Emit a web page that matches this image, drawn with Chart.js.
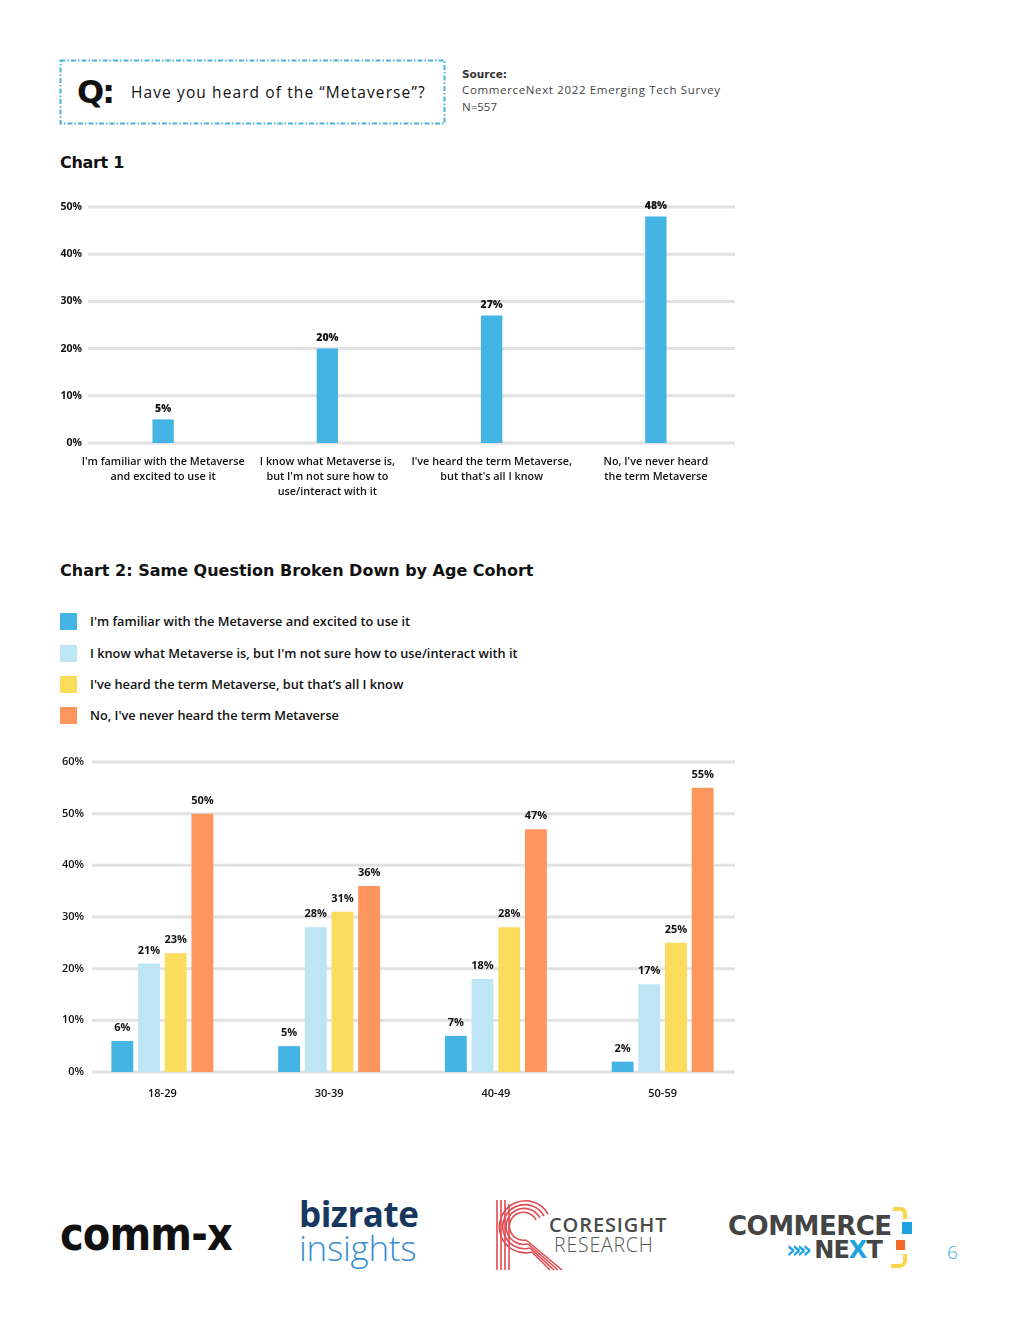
<!DOCTYPE html>
<html>
<head>
<meta charset="utf-8">
<script src="https://cdn.jsdelivr.net/npm/chart.js@4.4.0/dist/chart.umd.min.js"></script>
<style>
  body { margin:0; width:1020px; height:1320px; background:#fff; position:relative; overflow:hidden; font-family:'Open Sans', sans-serif; color:#111; }
  .abs { position:absolute; white-space:nowrap; }
  .head { font-family:'DejaVu Sans', sans-serif; font-weight:bold; color:#111; }
  .legend-row { position:absolute; left:60px; height:18px; }
  .legend-row .sw { position:absolute; left:0; top:0; width:17px; height:17px; }
  .legend-row .tx { position:absolute; left:30px; top:0; line-height:17px; font-size:12.75px; font-weight:600; color:#111; white-space:nowrap; }
</style>
</head>
<body>

<!-- question box -->
<svg class="abs" style="left:59px;top:59px" width="388" height="67">
  <rect x="1.5" y="1.5" width="384" height="63" fill="none" stroke="#4ab2d6" stroke-width="2" stroke-dasharray="5 2 1.5 2"/>
</svg>
<div class="abs head" style="left:77px;top:72px;font-size:32px;line-height:40px;font-weight:900;letter-spacing:-2px">Q:</div>
<div class="abs" style="left:131px;top:81px;font-size:15.5px;line-height:22px;letter-spacing:1.1px;color:#111">Have you heard of the “Metaverse”?</div>

<div class="abs" style="left:462px;top:66px;font-size:10.5px;line-height:16px;font-weight:800;color:#333;font-family:'DejaVu Sans',sans-serif">Source:</div>
<div class="abs" style="left:462px;top:82px;font-size:11.5px;line-height:16px;letter-spacing:0.65px;color:#444">CommerceNext 2022 Emerging Tech Survey</div>
<div class="abs" style="left:462px;top:99px;font-size:11.5px;line-height:16px;color:#444">N=557</div>

<div class="abs head" style="left:60px;top:153px;font-size:16px;line-height:20px;letter-spacing:-0.3px">Chart 1</div>

<div class="abs" style="left:40px;top:190px;width:710px;height:320px">
  <canvas id="chart1" width="710" height="320"></canvas>
</div>

<div class="abs head" style="left:60px;top:561px;font-size:16px;line-height:20px">Chart 2: Same Question Broken Down by Age Cohort</div>

<div id="legend2"></div>

<div class="abs" style="left:40px;top:745px;width:710px;height:370px">
  <canvas id="chart2" width="710" height="370"></canvas>
</div>

<!-- partner logos -->
<div class="abs" style="left:60px;top:1206px;font-family:'DejaVu Sans',sans-serif;font-weight:bold;font-size:46px;line-height:56px;color:#111;transform:scaleX(0.87);transform-origin:left center;letter-spacing:-1px">comm-x</div>

<div class="abs" style="left:299px;top:1192px;font-size:35px;line-height:44px;font-weight:700;color:#17375e;letter-spacing:-0.5px">bizrate</div>
<div class="abs" style="left:299px;top:1226px;font-size:35px;line-height:44px;font-weight:300;color:#3b8fd2;letter-spacing:-0.3px">insights</div>

<svg class="abs" style="left:490px;top:1194px" width="80" height="80">
  <g fill="none" stroke="#e04a50" stroke-width="1.6">
    <line x1="7" y1="6" x2="7" y2="76"/>
    <line x1="11" y1="6" x2="11" y2="76"/>
    <line x1="15" y1="6" x2="15" y2="76"/>
    <line x1="19" y1="10" x2="19" y2="76"/>
    <path d="M58 20 A26 26 0 1 0 42 58"/>
    <path d="M54 22 A22 22 0 1 0 40 54"/>
    <path d="M50 24 A18 18 0 1 0 38 50"/>
    <path d="M46 26 A14 14 0 1 0 36 46"/>
    <line x1="42" y1="58" x2="60" y2="76"/>
    <line x1="40" y1="54" x2="64" y2="76"/>
    <line x1="38" y1="50" x2="68" y2="76"/>
    <line x1="36" y1="46" x2="72" y2="76"/>
  </g>
</svg>
<div class="abs" style="left:549px;top:1213px;font-size:20px;line-height:24px;font-weight:600;color:#4a4a4a;letter-spacing:0.9px">CORESIGHT</div>
<div class="abs" style="left:554px;top:1233px;font-size:19.5px;line-height:24px;font-weight:300;color:#555;letter-spacing:0.8px">RESEARCH</div>

<div class="abs" style="left:728px;top:1210px;font-family:'DejaVu Sans',sans-serif;font-weight:bold;font-size:26px;line-height:32px;color:#444;letter-spacing:-0.5px">COMMERCE</div>
<div class="abs" style="left:786px;top:1236px;font-family:'DejaVu Sans',sans-serif;font-weight:bold;font-size:24px;line-height:28px;color:#444;letter-spacing:-1px"><span style="color:#1fa3e0;letter-spacing:-5px">»»</span> NE<span style="color:#1fa3e0">X</span>T</div>
<div class="abs" style="left:893px;top:1207px;width:10px;height:8px;border-top:4px solid #fcd64a;border-right:4px solid #fcd64a;border-radius:0 6px 0 0"></div>
<div class="abs" style="left:902px;top:1222px;width:10px;height:12px;background:#1fa3e0"></div>
<div class="abs" style="left:896px;top:1240px;width:9px;height:10px;background:#f26b2a"></div>
<div class="abs" style="left:891px;top:1254px;width:12px;height:10px;border-bottom:4px solid #fcd64a;border-right:4px solid #fcd64a;border-radius:0 0 8px 0"></div>

<div class="abs" style="left:947px;top:1240px;font-size:19px;line-height:24px;font-weight:300;color:#3fb1e0">6</div>

<script>
// ---- Chart 1 data ----
const chart1Labels = [
  ["I'm familiar with the Metaverse", "and excited to use it"],
  ["I know what Metaverse is,", "but I'm not sure how to", "use/interact with it"],
  ["I've heard the term Metaverse,", "but that's all I know"],
  ["No, I've never heard", "the term Metaverse"]
];
const chart1Values = [5, 20, 27, 48];
const chart1Max = 50;

// ---- Chart 2 data ----
const ageGroups = ['18-29', '30-39', '40-49', '50-59'];
const seriesNames = [
  "I'm familiar with the Metaverse and excited to use it",
  "I know what Metaverse is, but I'm not sure how to use/interact with it",
  "I've heard the term Metaverse, but that’s all I know",
  "No, I've never heard the term Metaverse"
];
const familiarExcited = [6, 5, 7, 2];
const knowNotSure = [21, 28, 18, 17];
const heardOnly = [23, 31, 28, 25];
const neverHeard = [50, 36, 47, 55];
const chart2Max = 60;

const seriesColors = ['#43b4e4', '#bde5f4', '#fcdc5c', '#fe955c'];

// grid lines drawn a bit inside the chart area, like the source
const insetGrid = {
  id: 'insetGrid',
  beforeDatasetsDraw(chart, args, opts) {
    const {ctx, chartArea, scales: {y}} = chart;
    ctx.save();
    ctx.strokeStyle = '#e2e2e2';
    ctx.lineWidth = 3;
    y.ticks.forEach(t => {
      const py = y.getPixelForValue(t.value);
      ctx.beginPath();
      ctx.moveTo(chartArea.left + opts.left, py);
      ctx.lineTo(chartArea.right - opts.right, py);
      ctx.stroke();
    });
    ctx.restore();
  }
};

// y tick text, right aligned at a set x (the axis box itself would clip it)
const yTickLabels = {
  id: 'yTickLabels',
  afterDraw(chart, args, opts) {
    const {ctx, scales: {y}} = chart;
    ctx.save();
    ctx.font = opts.font;
    ctx.fillStyle = '#111';
    ctx.textAlign = 'right';
    ctx.textBaseline = 'middle';
    y.ticks.forEach(t => {
      ctx.fillText(t.value + '%', opts.x, y.getPixelForValue(t.value));
    });
    ctx.restore();
  }
};

// percentage text above every bar
const valueLabels = {
  id: 'valueLabels',
  afterDatasetsDraw(chart, args, opts) {
    const ctx = chart.ctx;
    ctx.save();
    ctx.font = opts.font;
    ctx.fillStyle = '#111';
    ctx.textAlign = 'center';
    ctx.textBaseline = 'middle';
    chart.data.datasets.forEach((ds, i) => {
      chart.getDatasetMeta(i).data.forEach((bar, j) => {
        ctx.fillText(ds.data[j] + '%', bar.x, bar.y - opts.offset);
      });
    });
    ctx.restore();
  }
};

function makeScales(max, yWidth, xHeight, xPad, xFont) {
  return {
    x: {
      grid: { display: false, drawTicks: false },
      border: { display: false },
      ticks: { color: '#111', font: xFont, padding: xPad, maxRotation: 0, autoSkip: false },
      afterFit: s => { s.height = xHeight; }
    },
    y: {
      min: 0,
      max: max,
      grid: { display: false, drawTicks: false },
      border: { display: false },
      ticks: { stepSize: 10, display: false },
      afterFit: s => { s.width = yWidth; }
    }
  };
}

Chart.defaults.font.family = "'Open Sans', sans-serif";

new Chart(document.getElementById('chart1'), {
  type: 'bar',
  data: {
    labels: chart1Labels,
    datasets: [{
      data: chart1Values,
      backgroundColor: seriesColors[0],
      categoryPercentage: 1,
      barPercentage: 0.13
    }]
  },
  options: {
    responsive: false,
    animation: false,
    layout: { padding: { top: 17, right: 12, left: 0, bottom: 0 } },
    scales: makeScales(chart1Max, 41, 67, 12, { size: 10.8, weight: '600', lineHeight: 1.35 }),
    plugins: {
      legend: { display: false },
      tooltip: { enabled: false },
      insetGrid: { left: 7, right: 3 },
      yTickLabels: { font: "700 10.5px 'Open Sans'", x: 42 },
      valueLabels: { font: "800 10.5px 'Open Sans'", offset: 10.5 }
    }
  },
  plugins: [insetGrid, yTickLabels, valueLabels]
});

const series2 = [familiarExcited, knowNotSure, heardOnly, neverHeard];

new Chart(document.getElementById('chart2'), {
  type: 'bar',
  data: {
    labels: ageGroups,
    datasets: series2.map((vals, i) => ({
      label: seriesNames[i],
      data: vals,
      backgroundColor: seriesColors[i],
      categoryPercentage: 0.64,
      barPercentage: 0.82
    }))
  },
  options: {
    responsive: false,
    animation: false,
    layout: { padding: { top: 17, right: 4, left: 0, bottom: 0 } },
    scales: makeScales(chart2Max, 39, 43, 15, { size: 11, weight: '600' }),
    plugins: {
      legend: { display: false },
      tooltip: { enabled: false },
      insetGrid: { left: 13, right: 11 },
      yTickLabels: { font: "600 11px 'Open Sans'", x: 44 },
      valueLabels: { font: "700 11px 'Open Sans'", offset: 13 }
    }
  },
  plugins: [insetGrid, yTickLabels, valueLabels]
});

// html legend for chart 2
const legendTops = [613, 645, 676, 707];
document.getElementById('legend2').innerHTML = seriesNames.map((name, i) =>
  `<div class="legend-row" style="top:${legendTops[i]}px">
     <div class="sw" style="background:${seriesColors[i]}"></div>
     <div class="tx">${name}</div>
   </div>`).join('');
</script>
</body>
</html>
